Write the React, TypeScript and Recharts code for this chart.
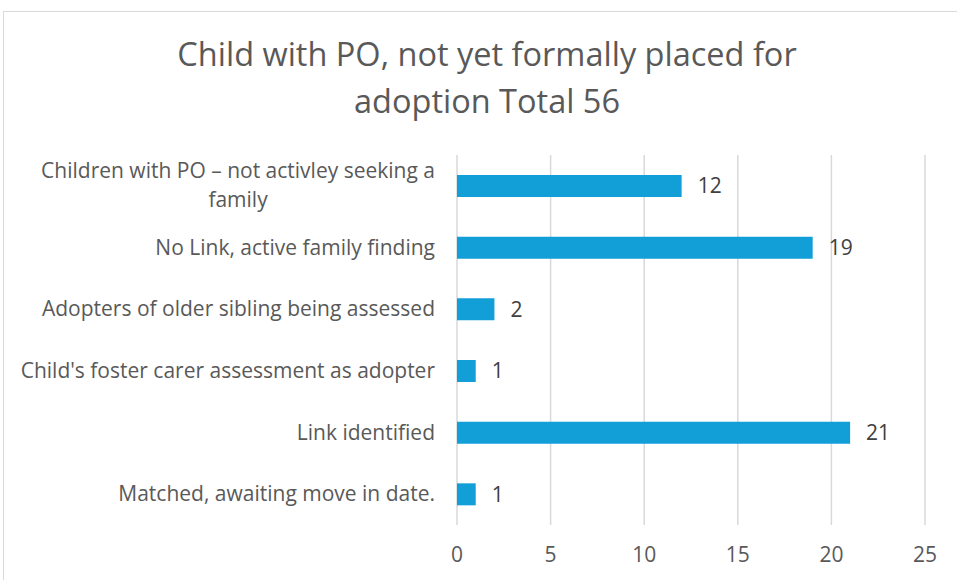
import { BarChart, Bar, XAxis, YAxis, CartesianGrid, LabelList } from 'recharts'

const categories = [
  'Children with PO – not activley seeking a\nfamily',
  'No Link, active family finding',
  'Adopters of older sibling being assessed',
  "Child's foster carer assessment as adopter",
  'Link identified',
  'Matched, awaiting move in date.',
]
const counts = [12, 19, 2, 1, 21, 1]
const xTicks = [0, 5, 10, 15, 20, 25]
const titleLines = ['Child with PO, not yet formally placed for', 'adoption Total 56']

const FONT = '"Open Sans", sans-serif'
const TEXT = '#595959'
const BAR = '#129fd7'
const GRID = '#d9d9d9'
const LABEL_SIZE = 21

const data = categories.map((name, i) => ({ name, value: counts[i] }))

let ctx: CanvasRenderingContext2D | null = null
function measure(s: string, size: number) {
  if (!ctx) ctx = document.createElement('canvas').getContext('2d')
  if (!ctx) return s.length * size * 0.5
  ctx.font = `${size}px ${FONT}`
  return ctx.measureText(s).width
}

// category labels: right aligned, wrapped ones centred as a block
function CategoryTick(props: any) {
  const { x, y, payload } = props
  const lines = String(payload.value).split('\n')
  const lh = 29
  if (lines.length === 1) {
    return (
      <text x={x} y={y} dy={7} textAnchor="end" fontSize={LABEL_SIZE} fontFamily={FONT} fill={TEXT}>
        {lines[0]}
      </text>
    )
  }
  const w = Math.max(...lines.map((l) => measure(l, LABEL_SIZE)))
  const cx = x - w / 2
  const top = y - ((lines.length - 1) * lh) / 2
  return (
    <text textAnchor="middle" fontSize={LABEL_SIZE} fontFamily={FONT} fill={TEXT}>
      {lines.map((l, i) => (
        <tspan key={i} x={cx} y={top + i * lh} dy={7}>{l}</tspan>
      ))}
    </text>
  )
}

export default function App() {
  return (
    <div style={{ position: 'absolute', left: 0, top: 0, width: 957, height: 580, overflow: 'hidden', background: '#fff' }}>
      <div style={{ position: 'absolute', left: 3, top: 11, width: 1000, height: 600, borderLeft: `1.5px solid ${GRID}`, borderTop: `1.5px solid ${GRID}` }} />
      <div style={{ position: 'absolute', left: 0, top: 30, width: 974, textAlign: 'center', fontFamily: FONT, fontSize: 32.5, lineHeight: '47px', color: TEXT }}>
        {titleLines.map((t, i) => (
          <div key={i}>{t}</div>
        ))}
      </div>
      <div style={{ position: 'absolute', left: 0, top: 0 }}>
        <BarChart width={957} height={580} data={data} layout="vertical" margin={{ top: 155, right: 32, bottom: 0, left: 0 }}>
          <CartesianGrid horizontal={false} stroke={GRID} strokeWidth={1.5} />
          <XAxis
            type="number"
            domain={[0, 25]}
            ticks={xTicks}
            axisLine={false}
            tickLine={false}
            tickSize={0}
            tickMargin={22}
            height={55}
            tick={{ fontSize: LABEL_SIZE, fontFamily: FONT, fill: TEXT }}
          />
          <YAxis
            type="category"
            dataKey="name"
            width={457}
            axisLine={false}
            tickLine={false}
            tickSize={0}
            tickMargin={22}
            tick={<CategoryTick />}
          />
          <Bar dataKey="value" fill={BAR} barSize={22} isAnimationActive={false}>
            <LabelList dataKey="value" position="right" offset={16} fontSize={LABEL_SIZE} fontFamily={FONT} fill="#404040" />
          </Bar>
        </BarChart>
      </div>
    </div>
  )
}
